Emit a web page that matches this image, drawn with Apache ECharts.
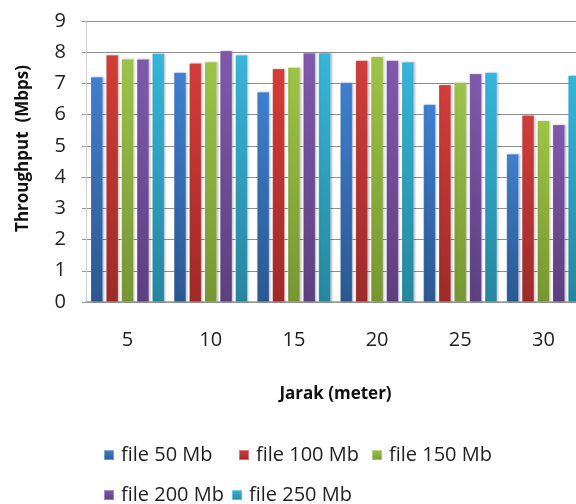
<!DOCTYPE html>
<html>
<head>
<meta charset="utf-8">
<script src="https://cdn.jsdelivr.net/npm/echarts@6/dist/echarts.min.js"></script>
<style>html,body{margin:0;padding:0;background:#fff;overflow:hidden;width:576px;height:504px;}#c{width:586px;height:504px;}</style>
</head>
<body>
<div id="c"></div>
<script>
const categories = ['5', '10', '15', '20', '25', '30'];
const seriesNames = ['file 50 Mb', 'file 100 Mb', 'file 150 Mb', 'file 200 Mb', 'file 250 Mb'];
const file50 = [7.21, 7.35, 6.73, 7.03, 6.33, 4.74];
const file100 = [7.91, 7.65, 7.47, 7.74, 6.96, 5.98];
const file150 = [7.78, 7.69, 7.51, 7.86, 7.03, 5.81];
const file200 = [7.78, 8.05, 7.98, 7.74, 7.31, 5.68];
const file250 = [7.96, 7.91, 7.98, 7.69, 7.35, 7.26];
const yTicks = [0, 1, 2, 3, 4, 5, 6, 7, 8, 9];

const values = [file50, file100, file150, file200, file250];
const topColors = ['#3f7fcf', '#d23d3a', '#9dc447', '#8059ad', '#37b5da'];
const botColors = ['#2b5891', '#9e2a28', '#779633', '#5d3f7f', '#25879e'];
const FONT = '"Open Sans", sans-serif';

function grad(i) {
  return new echarts.graphic.LinearGradient(0, 0, 0, 1, [
    { offset: 0, color: topColors[i] },
    { offset: 1, color: botColors[i] }
  ]);
}

const legendPos = [
  { left: 98, top: 440 },
  { left: 233, top: 440 },
  { left: 366, top: 440 },
  { left: 98, top: 480 },
  { left: 226, top: 480 }
];

const chart = echarts.init(document.getElementById('c'), null, { renderer: 'canvas' });
chart.setOption({
  animation: false,
  backgroundColor: '#fff',
  grid: { left: 86, right: 1, top: 21, bottom: 202, containLabel: false },
  legend: seriesNames.map((n, i) => ({
    data: [{ name: n, itemStyle: { color: grad(i) } }],
    left: legendPos[i].left,
    top: legendPos[i].top,
    icon: 'rect',
    itemWidth: 10,
    itemHeight: 10,
    textStyle: { fontFamily: FONT, fontSize: 20, color: '#1f1f1f', padding: [0, 0, 0, 2] },
    selectedMode: false
  })),
  xAxis: {
    type: 'category',
    data: categories,
    name: 'Jarak (meter)',
    nameLocation: 'middle',
    nameGap: 84,
    nameTextStyle: { fontFamily: FONT, fontSize: 17, fontWeight: 'bold', color: '#111' },
    axisLine: { lineStyle: { color: '#9a9a9a', width: 1.5 } },
    axisTick: { show: false },
    axisLabel: { fontFamily: FONT, fontSize: 20, color: '#222', margin: 28 }
  },
  yAxis: {
    type: 'value',
    min: 0,
    max: 9,
    interval: 1,
    name: 'Throughput  (Mbps)',
    nameLocation: 'middle',
    nameGap: 54,
    nameRotate: 90,
    nameTextStyle: { fontFamily: FONT, fontSize: 17, fontWeight: 'bold', color: '#111', padding: [0, 0, 0, 26] },
    axisLine: { show: true, lineStyle: { color: '#d0d0d0', width: 1 } },
    axisTick: { show: true, length: 4, lineStyle: { color: '#9a9a9a' } },
    axisLabel: {
      fontFamily: FONT, fontSize: 20, color: '#222', margin: 20,
      formatter: v => yTicks.indexOf(v) >= 0 ? String(v) : ''
    },
    splitLine: { lineStyle: { color: '#8e8e8e', width: 1.2 } }
  },
  series: seriesNames.map((n, i) => ({
    name: n,
    type: 'bar',
    data: values[i],
    barWidth: 12.3,
    barGap: '25%',
    itemStyle: {
      color: grad(i),
      borderColor: 'rgba(255,255,255,0.35)',
      borderWidth: 0.6,
      shadowColor: 'rgba(0,0,0,0.25)',
      shadowBlur: 2,
      shadowOffsetX: 1,
      shadowOffsetY: 0
    }
  }))
});
</script>
</body>
</html>
